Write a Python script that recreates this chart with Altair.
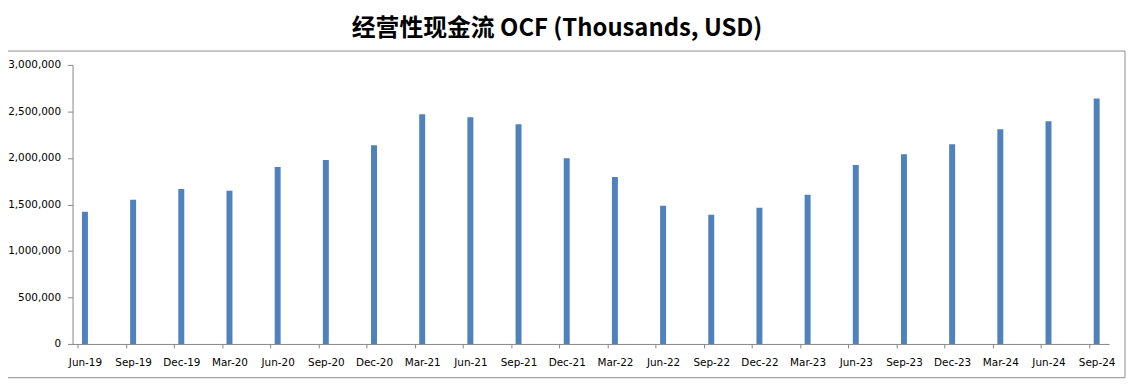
import altair as alt
import pandas as pd

quarters = ["Jun-19", "Sep-19", "Dec-19", "Mar-20", "Jun-20", "Sep-20", "Dec-20",
            "Mar-21", "Jun-21", "Sep-21", "Dec-21", "Mar-22", "Jun-22", "Sep-22",
            "Dec-22", "Mar-23", "Jun-23", "Sep-23", "Dec-23", "Mar-24", "Jun-24", "Sep-24"]
ocf = [1421000, 1550000, 1667000, 1646000, 1902000, 1977000, 2137000,
       2469000, 2437000, 2362000, 1998000, 1795000, 1486000, 1389000,
       1464000, 1603000, 1924000, 2041000, 2148000, 2308000, 2394000, 2640000]
y_ticks = [0, 500000, 1000000, 1500000, 2000000, 2500000, 3000000]

df = pd.DataFrame({"idx": list(range(len(quarters))), "quarter": quarters, "ocf": ocf})

label_js = "[" + ",".join("'" + q + "'" for q in quarters) + "]"

W, H = 1044, 281

bars = alt.Chart(df).mark_bar(width=6, xOffset=7.5, color="#4F81BD").encode(
    x=alt.X("idx:Q",
            scale=alt.Scale(domain=[0, 21.31], nice=False, zero=False),
            axis=alt.Axis(values=list(range(len(quarters))),
                          labelExpr=label_js + "[datum.value]",
                          labelOffset=7.5, labelFlush=False, labelOverlap=False,
                          labelAlign="center",
                          grid=False, title=None, tickSize=4, labelPadding=10,
                          domainColor="#868686", tickColor="#868686")),
    y=alt.Y("ocf:Q",
            scale=alt.Scale(domain=[0, 3000000], nice=False),
            axis=alt.Axis(values=y_ticks, labelExpr="format(datum.value, ',')",
                          grid=False, title=None, labelFlush=False,
                          tickSize=5, labelPadding=7,
                          domainColor="#868686", tickColor="#868686")),
)

frame = alt.Chart(pd.DataFrame({"a": [0]})).mark_rect(
    fill="transparent", stroke="#8c8c8c", strokeWidth=1
).encode(
    x=alt.value(-74), x2=alt.value(W + 16),
    y=alt.value(-14), y2=alt.value(H + 34),
)

chart = alt.layer(frame, bars).properties(
    width=W, height=H,
    title=alt.TitleParams(
        "经营性现金流 OCF (Thousands, USD)",
        font="Noto Sans CJK SC",
        fontSize=24, fontWeight="bold", color="#000000",
        anchor="middle", dx=-34, offset=10,
    ),
    autosize=alt.AutoSizeParams(type="none"),
    padding={"left": 65, "top": 56, "right": 18, "bottom": 40},
).configure_view(stroke=None).configure_axis(
    labelFont="DejaVu Sans", labelFontSize=10.5, labelColor="#000000",
    domainWidth=1, tickWidth=1,
)

chart.save("out.html", embed_options={"renderer": "svg", "actions": False})
